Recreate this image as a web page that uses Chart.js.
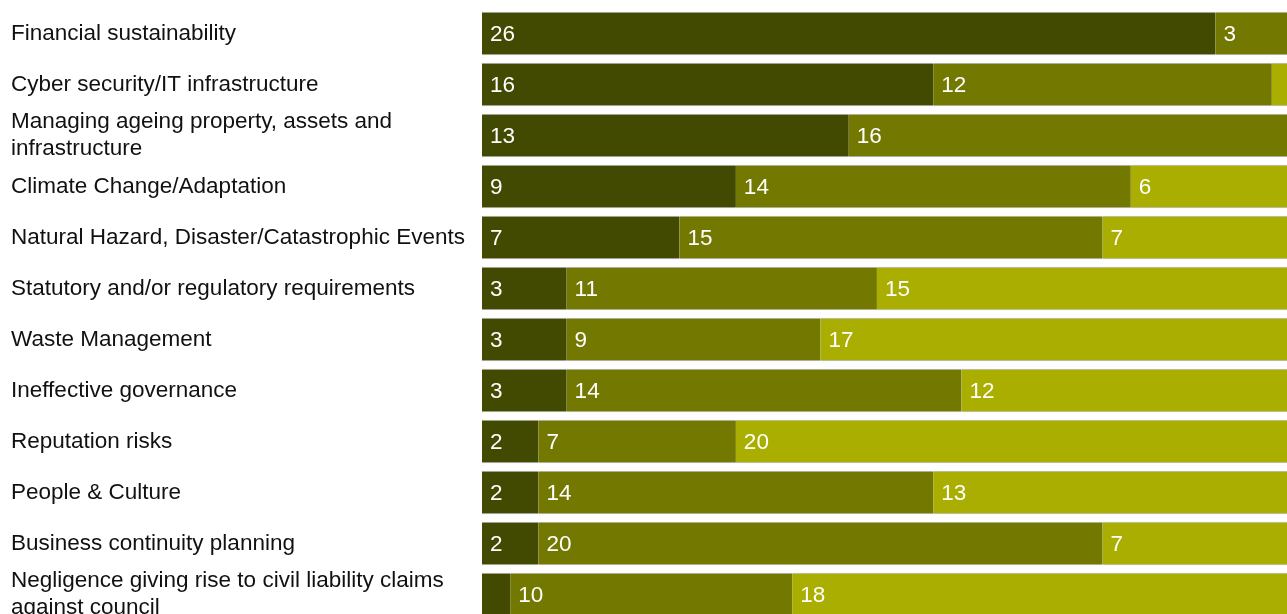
<!DOCTYPE html>
<html>
<head>
<meta charset="utf-8">
<script src="https://cdn.jsdelivr.net/npm/chart.js@4/dist/chart.umd.min.js"></script>
<style>
  html, body { margin: 0; padding: 0; background: #fff; overflow: hidden; }
  #wrap { width: 1300px; height: 620px; position: relative; }
</style>
</head>
<body>
<div id="wrap"><canvas id="risks"></canvas></div>
<script>
let riskLabels = [
    "Financial sustainability",
    "Cyber security/IT infrastructure",
    ["Managing ageing property, assets and", "infrastructure"],
    "Climate Change/Adaptation",
    "Natural Hazard, Disaster/Catastrophic Events",
    "Statutory and/or regulatory requirements",
    "Waste Management",
    "Ineffective governance",
    "Reputation risks",
    "People & Culture",
    "Business continuity planning",
    ["Negligence giving rise to civil liability claims", "against council"]
];

let highValues = [26, 16, 13, 9, 7, 3, 3, 3, 2, 2, 2, 1];
let mediumValues = [3, 12, 16, 14, 15, 11, 9, 14, 7, 14, 20, 10];
let lowValues = [0, 1, 0, 6, 7, 15, 17, 12, 20, 13, 7, 18];

let barColors = ["#414a00", "#737800", "#a9ae00"];

let fontFamily = "'Liberation Sans', Arial, sans-serif";

// white value written just inside the start of each segment
let segmentLabels = {
    id: "segmentLabels",
    afterDatasetsDraw(chart) {
        let ctx = chart.ctx;
        ctx.save();
        ctx.font = "22.5px " + fontFamily;
        ctx.fillStyle = "#ffffff";
        ctx.textAlign = "left";
        ctx.textBaseline = "middle";
        chart.data.datasets.forEach((ds, i) => {
            let meta = chart.getDatasetMeta(i);
            meta.data.forEach((bar, j) => {
                let v = ds.data[j];
                if (v < 2) return;
                ctx.fillText(String(v), Math.min(bar.base, bar.x) + 8, bar.y + 1);
            });
        });
        ctx.restore();
    }
};

let edge = { top: 1, bottom: 1, left: 0, right: 0 };

let riskChart = new Chart(document.getElementById("risks"), {
    type: "bar",
    data: {
        labels: riskLabels,
        datasets: [
            { label: "High", data: highValues, backgroundColor: barColors[0] },
            { label: "Medium", data: mediumValues, backgroundColor: barColors[1] },
            { label: "Low", data: lowValues, backgroundColor: barColors[2] }
        ].map(d => Object.assign(d, {
            borderColor: "rgba(170,170,170,0.7)",
            borderWidth: edge,
            borderSkipped: false,
            barThickness: 43
        }))
    },
    options: {
        indexAxis: "y",
        responsive: true,
        maintainAspectRatio: false,
        animation: false,
        layout: { padding: { left: 11, top: 8, right: 0, bottom: 0 } },
        plugins: {
            legend: { display: false },
            tooltip: { enabled: false }
        },
        scales: {
            x: {
                stacked: true,
                min: 0,
                max: 29,
                display: false
            },
            y: {
                stacked: true,
                grid: { display: false },
                border: { display: false },
                ticks: {
                    autoSkip: false,
                    crossAlign: "far",
                    color: "#111111",
                    font: { family: fontFamily, size: 22.5, lineHeight: 1.2 }
                },
                afterFit(scale) {
                    scale.width = 471;
                    scale.paddingTop = 0;
                    scale.paddingBottom = 0;
                }
            }
        }
    },
    plugins: [segmentLabels]
});
</script>
</body>
</html>
